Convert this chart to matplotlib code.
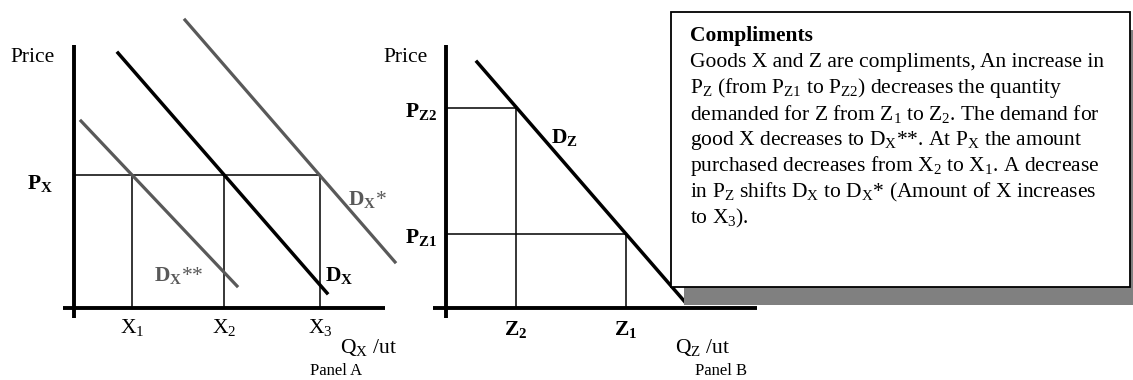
import matplotlib
matplotlib.use("Agg")
import matplotlib.pyplot as plt
from matplotlib.patches import Rectangle

plt.rcParams['font.family'] = ['Liberation Serif', 'DejaVu Serif']
plt.rcParams['mathtext.fontset'] = 'custom'
plt.rcParams['mathtext.rm'] = 'Liberation Serif'
plt.rcParams['mathtext.it'] = 'Liberation Serif:italic'
plt.rcParams['mathtext.bf'] = 'Liberation Serif:bold'

# diagram geometry (pixel coordinates of the 1133x380 picture)
# panel A
axisA_y = [74, 45, 318]          # x, top, bottom
axisA_x = [308, 63, 385]         # y, left, right
px_level = 175
x_points = [132, 224, 320]       # X1, X2, X3
x_labels = [r"X$_{\mathrm{1}}$", r"X$_{\mathrm{2}}$", r"X$_{\mathrm{3}}$"]
dx_line = [(118, 53), (327, 293)]
dx_star = [(185, 20), (395, 262)]
dx_2star = [(81, 121), (237, 286)]

# panel B
axisB_y = [446, 45, 318]
axisB_x = [308, 433, 757]
dz_line = [(477, 62), (685, 302)]
pz_levels = [234, 108]           # PZ1, PZ2
z_points = [626, 516]            # Z1, Z2

box_lines = [
    "Goods X and Z are compliments, An increase in",
    r"P$_{\mathrm{Z}}$ (from P$_{\mathrm{Z1}}$ to P$_{\mathrm{Z2}}$) decreases the quantity",
    r"demanded for Z from Z$_{\mathrm{1}}$ to Z$_{\mathrm{2}}$. The demand for",
    r"good X decreases to D$_{\mathrm{X}}$**. At P$_{\mathrm{X}}$ the amount",
    r"purchased decreases from X$_{\mathrm{2}}$ to X$_{\mathrm{1}}$. A decrease",
    r"in P$_{\mathrm{Z}}$ shifts D$_{\mathrm{X}}$ to D$_{\mathrm{X}}$* (Amount of X increases",
    r"to X$_{\mathrm{3}}$).",
]

gray = '#595959'
fs = 15.5

fig = plt.figure(figsize=(11.33, 3.8), dpi=100)
ax = fig.add_axes([0, 0, 1, 1])
ax.set_xlim(0, 1133)
ax.set_ylim(380, 0)
ax.axis('off')

# ---- Panel A ----
ax.plot([axisA_y[0]] * 2, axisA_y[1:], color='black', lw=2.8, solid_capstyle='butt')
ax.plot(axisA_x[1:], [axisA_x[0]] * 2, color='black', lw=2.8, solid_capstyle='butt')
ax.plot([axisA_y[0], x_points[2]], [px_level] * 2, color='black', lw=1.1)
for xp in x_points:
    ax.plot([xp, xp], [px_level, axisA_x[0]], color='black', lw=1.1)
ax.plot(*zip(*dx_2star), color=gray, lw=2.3)
ax.plot(*zip(*dx_star), color=gray, lw=2.3)
ax.plot(*zip(*dx_line), color='black', lw=2.5)

for xp, lab in zip(x_points, x_labels):
    ax.text(xp, 327, lab, fontsize=fs, ha='center', va='center')
ax.text(10, 58, "Price", fontsize=fs, va='center')
ax.text(27, 184, r"$\mathbf{P}_\mathbf{X}$", fontsize=fs, va='center')
ax.text(340, 347, r"Q$_{\mathrm{X}}$ /ut", fontsize=fs, va='center')
ax.text(310, 371, "Panel A", fontsize=12, va='center')
ax.text(154, 275, r"$\mathbf{D}_\mathbf{X}$**", fontsize=fs, va='center', color=gray)
ax.text(325, 275, r"$\mathbf{D}_\mathbf{X}$", fontsize=fs, va='center')
ax.text(348, 200, r"$\mathbf{D}_\mathbf{X}$*", fontsize=fs, va='center', color=gray)

# ---- Panel B ----
ax.plot([axisB_y[0]] * 2, axisB_y[1:], color='black', lw=2.8, solid_capstyle='butt')
ax.plot(axisB_x[1:], [axisB_x[0]] * 2, color='black', lw=2.8, solid_capstyle='butt')
for lvl, zp in zip(pz_levels, z_points):
    ax.plot([axisB_y[0], zp], [lvl, lvl], color='black', lw=1.1)
    ax.plot([zp, zp], [lvl, axisB_x[0]], color='black', lw=1.1)
ax.plot(*zip(*dz_line), color='black', lw=2.5)

ax.text(383, 58, "Price", fontsize=fs, va='center')
ax.text(405, 112, r"$\mathbf{P}_\mathbf{Z2}$", fontsize=fs, va='center')
ax.text(405, 237, r"$\mathbf{P}_\mathbf{Z1}$", fontsize=fs, va='center')
ax.text(551, 138, r"$\mathbf{D}_\mathbf{Z}$", fontsize=fs, va='center')
ax.text(z_points[1], 330, r"$\mathbf{Z}_\mathbf{2}$", fontsize=fs, ha='center', va='center')
ax.text(z_points[0], 330, r"$\mathbf{Z}_\mathbf{1}$", fontsize=fs, ha='center', va='center')
ax.text(675, 347, r"Q$_{\mathrm{Z}}$ /ut", fontsize=fs, va='center')
ax.text(695, 371, "Panel B", fontsize=12, va='center')

# ---- text box with shadow ----
ax.add_patch(Rectangle((684, 30), 460, 275, facecolor='#808080', edgecolor='none', zorder=4))
ax.add_patch(Rectangle((671, 12), 459, 275, facecolor='white', edgecolor='black', lw=1.3, zorder=5))
ax.text(690, 36, "Compliments", fontsize=fs, fontweight='bold', va='center', zorder=6)
for i, line in enumerate(box_lines):
    ax.text(690, 62 + i * 26, line, fontsize=fs, va='center', zorder=6)

fig.savefig("out.png", dpi=100)
